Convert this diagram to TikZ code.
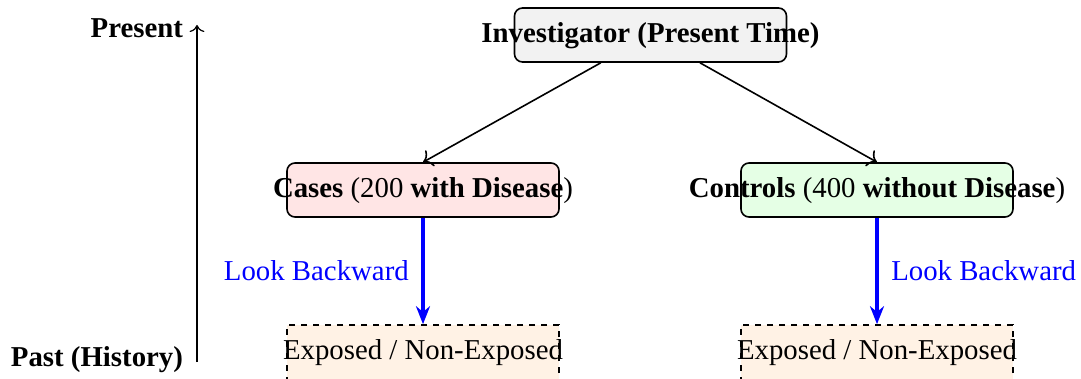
\documentclass[tikz,border=0pt]{standalone}
\usepackage{fontspec}
\setmainfont{Liberation Serif}
\usetikzlibrary{arrows.meta}
\begin{document}
\begin{tikzpicture}[x=0.5pt,y=-0.5pt,
  every node/.style={font=\fontsize{14.4}{17}\selectfont},
  box/.style={draw, thick, rounded corners=4pt, minimum width=136pt, minimum height=27pt, inner sep=0pt},
  invbox/.style={box, fill=gray!10},
  casebox/.style={box, fill=red!10},
  ctrlbox/.style={box, fill=green!10},
  expbox/.style={draw, thick, dashed, fill=orange!10, minimum width=136pt, minimum height=32pt, inner sep=0pt},
  txt/.style={inner sep=0pt},
  conn/.style={thick, -{To[scale=1.3]}},
  back/.style={blue, line width=1.6pt, -{Stealth[length=9pt,width=7pt]}},
  backlbl/.style={text=blue}
]
\useasboundingbox (0,0) rectangle (1081,379);

% time axis
\coordinate (past) at (197,362);
\coordinate (present) at (197,25);
\draw[semithick, -{To[scale=1.2]}] (past) -- (present);
\node[anchor=east, font=\fontsize{14.4}{17}\selectfont\bfseries] (presentL) at (190,28) {Present};
\node[anchor=east, font=\fontsize{14.4}{17}\selectfont\bfseries] (pastL) at (190,360) {Past (History)};

% boxes
\node[invbox] (inv) at (650.5,35) {};
\node[txt] (invT) at (650.5,36) {\textbf{Investigator (Present Time)}};

\node[casebox] (cases) at (423,190) {};
\node[txt] (casesT) at (423,191) {\textbf{Cases} (200 \textbf{with Disease})};

\node[ctrlbox] (ctrl) at (877,190) {};
\node[txt] (ctrlT) at (877,191) {\textbf{Controls} (400 \textbf{without Disease})};

\node[expbox] (exp1) at (423,357) {};
\node[txt] (exp1T) at (423,353) {Exposed / Non-Exposed};

\node[expbox] (exp2) at (877,357) {};
\node[txt] (exp2T) at (877,353) {Exposed / Non-Exposed};

% connectors
\draw[conn] (inv) -- (cases.north);
\draw[conn] (inv) -- (ctrl.north);
\draw[back] (cases.south) -- node[midway, left, backlbl, xshift=-3pt] (lb1) {Look Backward} (exp1.north);
\draw[back] (ctrl.south) -- node[midway, right, backlbl, xshift=3pt] (lb2) {Look Backward} (exp2.north);
\end{tikzpicture}
\end{document}
